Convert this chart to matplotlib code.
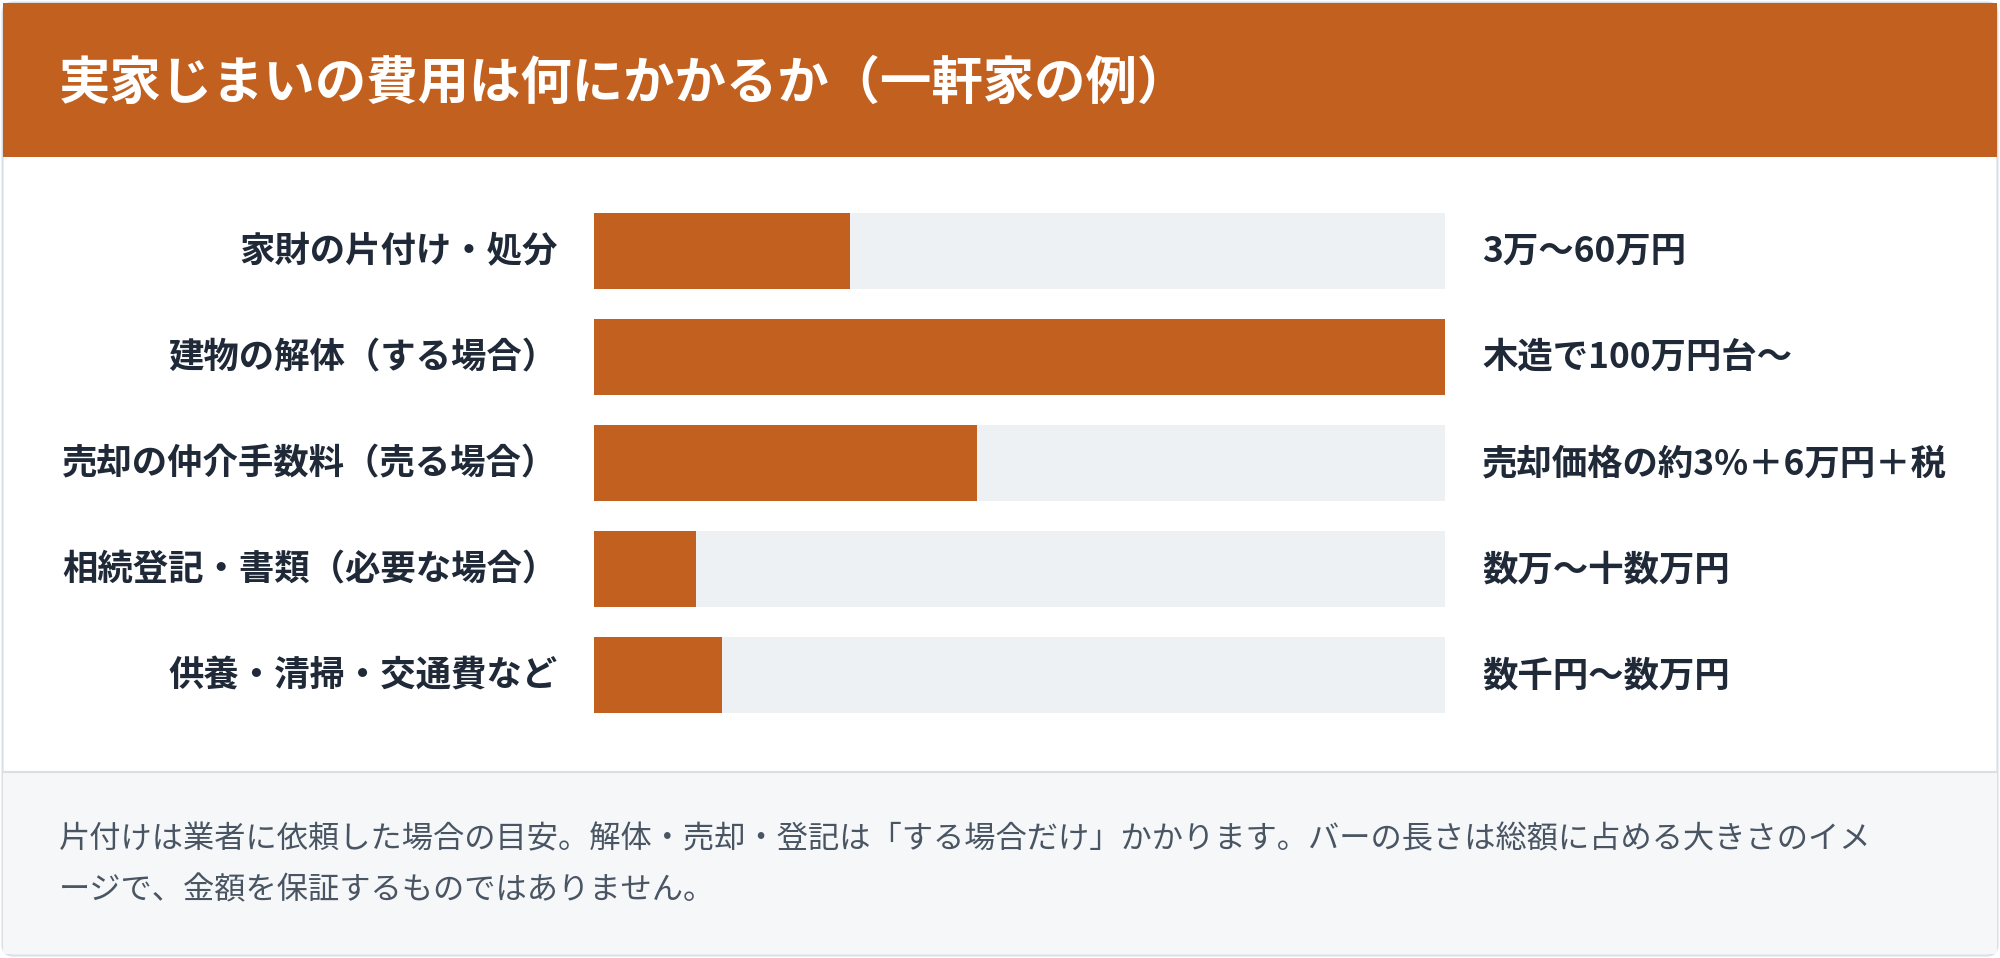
import matplotlib.pyplot as plt
from matplotlib.patches import FancyBboxPatch, Rectangle

plt.rcParams['font.family'] = ['Noto Sans CJK JP', 'DejaVu Sans']

title = '実家じまいの費用は何にかかるか（一軒家の例）'
categories = ['家財の片付け・処分', '建物の解体（する場合）', '売却の仲介手数料（売る場合）',
              '相続登記・書類（必要な場合）', '供養・清掃・交通費など']
shares = [0.30, 1.00, 0.45, 0.12, 0.15]
value_labels = ['3万〜60万円', '木造で100万円台〜', '売却価格の約3%＋6万円＋税',
                '数万〜十数万円', '数千円〜数万円']
note = ('片付けは業者に依頼した場合の目安。解体・売却・登記は「する場合だけ」かかります。バーの長さは総額に占める大きさのイメ\n'
        'ージで、金額を保証するものではありません。')

orange = '#C2611F'
W, H = 1568, 750
fig = plt.figure(figsize=(20, 9.58), dpi=100)
bg = fig.add_axes([0, 0, 1, 1])
bg.set_xlim(0, W)
bg.set_ylim(H, 0)
bg.axis('off')

# card, header, footer
bg.add_patch(FancyBboxPatch((2, 2), W - 4, H - 4, boxstyle='round,pad=0,rounding_size=8',
                            fc='white', ec='#DADFE5', lw=1.5))
bg.add_patch(Rectangle((2, 2), W - 4, 121, fc=orange, ec='none'))
bg.add_patch(Rectangle((2, 604), W - 4, 143, fc='#F5F7F9', ec='none'))
bg.plot([2, W - 2], [604, 604], color='#DADFE5', lw=1.5)

bg.text(46, 65, title, color='white', fontsize=37, fontweight='bold', va='center')
bg.text(46, 677, note, color='#4A5563', fontsize=22.5, va='center', linespacing=1.75)

rows = [197, 280, 363, 446, 529]
for y, cat, val in zip(rows, categories, value_labels):
    bg.text(437, y, cat, ha='right', va='center', fontsize=25.5, fontweight='bold', color='#1F2937')
    bg.text(1162, y, val, ha='left', va='center', fontsize=25.5, fontweight='bold', color='#1F2937')

# bars
ax = fig.add_axes([466 / W, 1 - 559 / H, (1133 - 466) / W, (559 - 166) / H])
ax.set_xlim(0, 1)
ax.set_ylim(4 + 30.5 / 83, -30.5 / 83)
ax.axis('off')
pos = range(len(categories))
ax.barh(pos, [1] * len(categories), height=60 / 83, color='#EEF1F4')
ax.barh(pos, shares, height=60 / 83, color=orange)

fig.savefig('out.png', dpi=100)
